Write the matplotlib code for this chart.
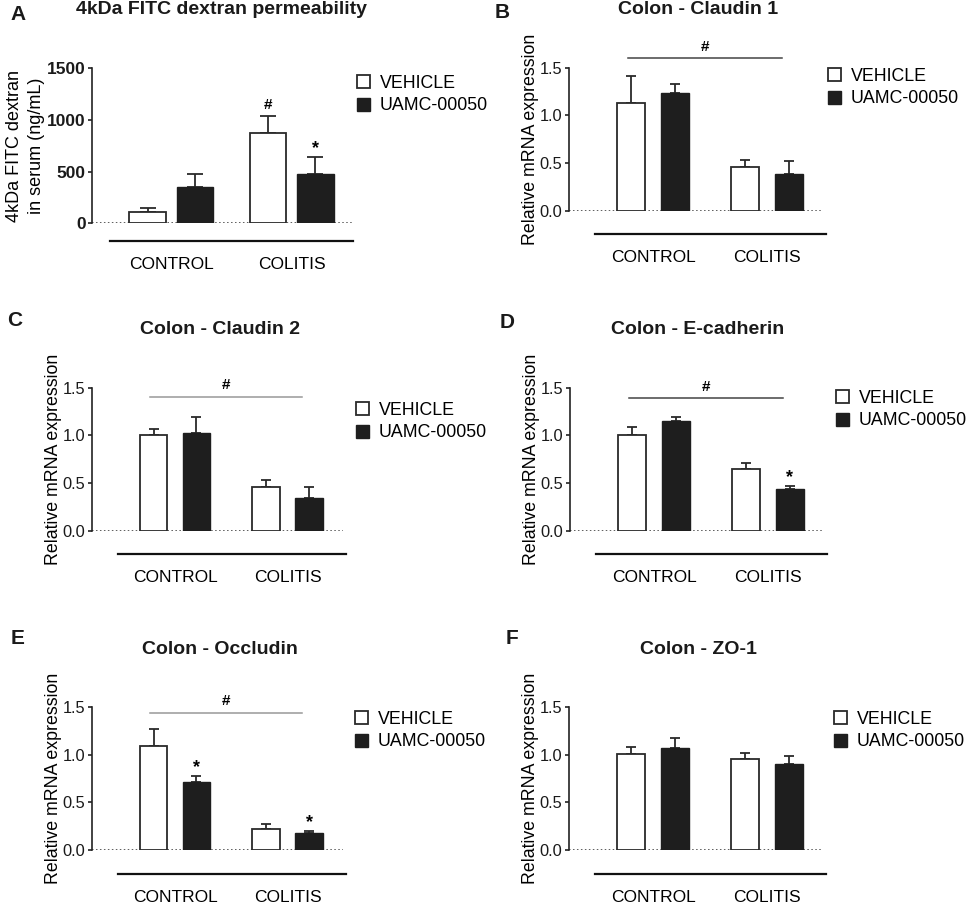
import matplotlib
matplotlib.use("Agg")
import matplotlib.pyplot as plt
from matplotlib.patches import Patch
import numpy as np

plt.rcParams['font.family'] = ['Liberation Sans', 'DejaVu Sans']

W, H = 969, 905
categories = ["CONTROL", "COLITIS"]
series_names = ["VEHICLE", "UAMC-00050"]

# ---- data ----
titles = ["4kDa FITC dextran permeability", "Colon - Claudin 1", "Colon - Claudin 2",
          "Colon - E-cadherin", "Colon - Occludin", "Colon - ZO-1"]
letters = ["A", "B", "C", "D", "E", "F"]

a_vehicle = [112, 871]
a_vehicle_sem = [36, 167]
a_uamc = [354, 477]
a_uamc_sem = [120, 161]

b_vehicle = [1.133, 0.462]
b_vehicle_sem = [0.283, 0.073]
b_uamc = [1.235, 0.382]
b_uamc_sem = [0.097, 0.136]

c_vehicle = [1.003, 0.458]
c_vehicle_sem = [0.060, 0.077]
c_uamc = [1.021, 0.343]
c_uamc_sem = [0.168, 0.119]

d_vehicle = [1.007, 0.643]
d_vehicle_sem = [0.077, 0.070]
d_uamc = [1.147, 0.441]
d_uamc_sem = [0.049, 0.031]

e_vehicle = [1.093, 0.217]
e_vehicle_sem = [0.183, 0.060]
e_uamc = [0.715, 0.175]
e_uamc_sem = [0.067, 0.028]

f_vehicle = [1.006, 0.960]
f_vehicle_sem = [0.077, 0.063]
f_uamc = [1.069, 0.901]
f_uamc_sem = [0.105, 0.087]

# significance marks: (series index, category index, symbol)
a_marks = [(0, 1, "#"), (1, 1, "*")]
d_marks = [(1, 1, "*")]
e_marks = [(1, 0, "*"), (1, 1, "*")]
# '#' bracket heights (None = no bracket)
brackets = [None, 1.60, 1.406, 1.388, 1.444, None]

a_yticks = [0, 500, 1000, 1500]
mrna_yticks = [0.0, 0.5, 1.0, 1.5]

fig = plt.figure(figsize=(W / 100, H / 100), dpi=100)


def fx(x):
    return x / W


def fy(y):
    return 1 - y / H


PT = 72 / 100  # points per pixel

# layout in pixel (left, top, right, bottom)
layouts = [
    (92, 68.3, 352, 223.3),
    (569, 67.7, 823, 210.7),
    (92, 387.7, 343, 530.7),
    (570, 387.7, 824, 530.7),
    (92, 707.3, 343, 850.0),
    (569, 707.3, 823, 850.0),
]
outward_px = [18, 23.6, 23.6, 23.6, 24.3, 24.3]
title_pos = [(222, 10), (698, 10), (220, 329), (698, 329), (220, 649), (698, 649)]
letter_pos = [(18, 15), (502, 13), (15, 320), (507, 322), (18, 638), (512, 638)]
legend_pos = [(357, 82), (828, 75), (356, 409), (836, 397), (355, 718), (834, 718)]

panels = [
    (a_vehicle, a_vehicle_sem, a_uamc, a_uamc_sem, a_marks),
    (b_vehicle, b_vehicle_sem, b_uamc, b_uamc_sem, []),
    (c_vehicle, c_vehicle_sem, c_uamc, c_uamc_sem, []),
    (d_vehicle, d_vehicle_sem, d_uamc, d_uamc_sem, d_marks),
    (e_vehicle, e_vehicle_sem, e_uamc, e_uamc_sem, e_marks),
    (f_vehicle, f_vehicle_sem, f_uamc, f_uamc_sem, []),
]
bracket_colors = [None, "#444444", "#999999", "#444444", "#999999", None]

edge = "#2a2a2a"
dark = "#1e1e1e"

for i, (veh, vsem, uam, usem, marks) in enumerate(panels):
    l, t, r, b = layouts[i]
    ax = fig.add_axes([fx(l), fy(b), fx(r) - fx(l), (b - t) / H])
    x = np.arange(len(categories))
    if i == 0:
        bw, off, cap = 0.30, 0.197, 6.0
        ax.set_xlim(-0.658, 1.50)
        ax.set_ylim(0, 1500)
        ax.set_yticks(a_yticks)
        ax.set_yticklabels([str(v) for v in a_yticks], fontsize=12.5, fontweight="bold")
        ax.set_ylabel("4kDa FITC dextran\nin serum (ng/mL)", fontsize=13, labelpad=1,
                      linespacing=1.42)
        bounds = (-0.508, 1.508)
    else:
        bw, off, cap = 0.245, 0.19, 3.8
        ax.set_xlim(-0.737, 1.491)
        ax.set_ylim(0, 1.5)
        ax.set_yticks(mrna_yticks)
        ax.set_yticklabels([f"{v:.1f}" for v in mrna_yticks], fontsize=11.8)
        ax.set_ylabel("Relative mRNA expression", fontsize=12.8, labelpad=0.8)
        bounds = (-0.509, 1.517)

    ax.bar(x - off, veh, bw, color="white", edgecolor=edge, linewidth=1.3, zorder=3)
    ax.bar(x + off, uam, bw, color=dark, edgecolor=dark, linewidth=1.0, zorder=3)
    ax.errorbar(x - off, veh, yerr=[np.zeros(len(vsem)), vsem], fmt="none",
                ecolor=edge, elinewidth=1.3, capsize=cap, capthick=1.3, zorder=2)
    ax.errorbar(x + off, uam, yerr=[np.zeros(len(usem)), usem], fmt="none",
                ecolor=edge, elinewidth=1.3, capsize=cap, capthick=1.3, zorder=2)

    ax.axhline(0, color="#333333", linestyle=(0, (1, 1.6)), linewidth=1.1, zorder=1)

    for s, c, sym in marks:
        vals = veh if s == 0 else uam
        sems = vsem if s == 0 else usem
        xpos = x[c] + (-off if s == 0 else off)
        ax.annotate(sym, (xpos, vals[c] + sems[c]), xytext=(0, 3 if sym == "#" else 0),
                    textcoords="offset points", ha="center", va="bottom",
                    fontsize=11 if sym == "#" else 13, fontweight="bold",
                    annotation_clip=False)

    if brackets[i] is not None:
        yb = brackets[i]
        ax.plot([-0.22, 1.13], [yb, yb], color=bracket_colors[i], linewidth=1.1,
                clip_on=False)
        ax.annotate("#", ((-0.22 + 1.13) / 2, yb), xytext=(0, 3),
                    textcoords="offset points", ha="center", va="bottom",
                    fontsize=11, fontweight="bold", annotation_clip=False)

    for side in ["top", "right"]:
        ax.spines[side].set_visible(False)
    ax.spines["left"].set_linewidth(1.2)
    ax.spines["left"].set_color("#222222")
    ax.spines["bottom"].set_position(("outward", outward_px[i] * PT))
    ax.spines["bottom"].set_bounds(*bounds)
    ax.spines["bottom"].set_linewidth(1.6)
    ax.spines["bottom"].set_color("#111111")
    ax.set_xticks(x)
    ax.set_xticklabels(categories, fontsize=12.5)
    ax.tick_params(axis="x", length=0, pad=11.5)
    ax.tick_params(axis="y", length=2.6, width=1.2, direction="out", pad=2,
                   colors="#222222")
    ax.tick_params(axis="y", labelcolor="#1a1a1a")

    tx, ty = title_pos[i]
    fig.text(fx(tx), fy(ty), titles[i], ha="center", va="center", fontsize=14,
             fontweight="bold", color="#1a1a1a")
    lx, ly = letter_pos[i]
    fig.text(fx(lx), fy(ly), letters[i], ha="center", va="center", fontsize=15,
             fontweight="bold", color="#1a1a1a")

    handles = [Patch(facecolor="white", edgecolor=edge, linewidth=1.3),
               Patch(facecolor=dark, edgecolor=dark, linewidth=1.0)]
    gx, gy = legend_pos[i]
    fig.legend(handles, series_names, loc="upper left",
               bbox_to_anchor=(fx(gx), fy(gy - 7)), frameon=False, fontsize=12.8,
               handlelength=0.75, handleheight=0.75, handletextpad=0.55,
               labelspacing=0.3, borderpad=0, borderaxespad=0)

fig.savefig("out.png", dpi=100, facecolor="white")
